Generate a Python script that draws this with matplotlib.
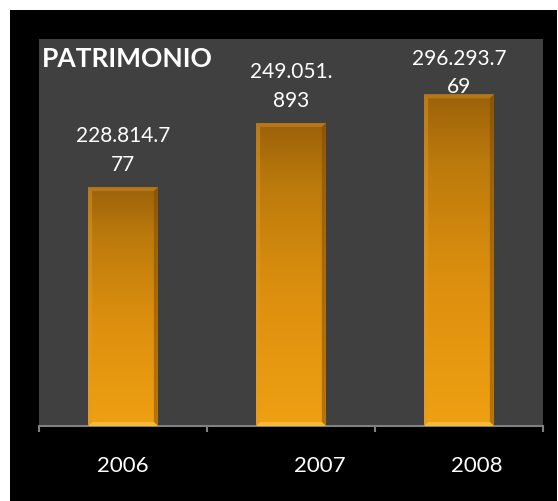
import numpy as np
import matplotlib.pyplot as plt
from matplotlib.colors import LinearSegmentedColormap
from matplotlib.patches import Rectangle, Polygon
from matplotlib.transforms import ScaledTranslation

plt.rcParams['font.family'] = ['Lato', 'DejaVu Sans']

years = ["2006", "2007", "2008"]
heights = [216, 274, 300]      # bar heights (axis 0-350)
labels = ["228.814.7\n77", "249.051.\n893", "296.293.7\n69"]
label_lift = [27, 27, 16]      # pt above the bar top
year_shift = [0, 21, 13]       # pt, year labels sit off-centre in the original

W, H = 558, 502
fig = plt.figure(figsize=(W / 100, H / 100), dpi=100, facecolor="white")
fig.patches.append(Rectangle((10 / W, 0), 547 / W, 491 / H, transform=fig.transFigure,
                             facecolor="black", edgecolor="none", zorder=-10))
ax = fig.add_axes([39 / W, 75 / H, 504 / W, 387 / H])
ax.set_facecolor("#404040")

ymax = 350
bw = 0.415
bx = 4 / 168             # bevel, 4 px in data units
by = 4 * ymax / 387
cmap = LinearSegmentedColormap.from_list(
    "bar", [(0, "#efa012"), (0.45, "#dc8f0e"), (0.8, "#bb7a0c"), (1, "#9c620a")])
grad = np.linspace(0, 1, 256).reshape(-1, 1)

for i, h in enumerate(heights):
    x0, x1 = i - bw / 2, i + bw / 2
    ax.imshow(grad, extent=[x0, x1, 0, h], origin="lower", cmap=cmap,
              aspect="auto", zorder=2, interpolation="bilinear")
    ax.add_patch(Polygon([(x0, h), (x1, h), (x1 - bx, h - by), (x0 + bx, h - by)],
                         facecolor="#b47818", edgecolor="none", zorder=3))
    ax.add_patch(Polygon([(x1, h), (x1, 0), (x1 - bx, by), (x1 - bx, h - by)],
                         facecolor="#7a4806", alpha=0.5, edgecolor="none", zorder=3))
    ax.add_patch(Polygon([(x0, 0), (x1, 0), (x1 - bx, by), (x0 + bx, by)],
                         facecolor="#f8b93a", edgecolor="none", zorder=3))
    ax.add_patch(Polygon([(x0, 0), (x0, h), (x0 + bx, h - by), (x0 + bx, by)],
                         facecolor="#e09a2a", alpha=0.45, edgecolor="none", zorder=3))
    ax.annotate(labels[i], (i, h), xytext=(0, label_lift[i]), textcoords="offset points",
                ha="center", va="center", color="white", fontsize=15, linespacing=1.55)

ax.set_xlim(-0.5, 2.5)
ax.set_ylim(0, ymax)
ax.set_yticks([])
for s in ("top", "left", "right"):
    ax.spines[s].set_visible(False)
ax.spines["bottom"].set_color("#808080")
ax.spines["bottom"].set_linewidth(1.5)

ax.set_xticks([-0.5, 0.5, 1.5, 2.5])
ax.set_xticklabels([])
ax.tick_params(axis="x", which="major", length=4.5, width=1.5, color="#808080", direction="out")
ax.set_xticks([0, 1, 2], years, minor=True)
ax.tick_params(axis="x", which="minor", length=0, pad=21, labelsize=16, labelcolor="white")
for lab, dx in zip(ax.xaxis.get_minorticklabels(), year_shift):
    lab.set_transform(lab.get_transform() + ScaledTranslation(dx / 72, 0, fig.dpi_scale_trans))

ax.text(0.006, 0.93, "PATRIMONIO", transform=ax.transAxes, fontsize=19,
        fontweight="bold", color="white", va="baseline")

fig.savefig("out.png", dpi=100)
